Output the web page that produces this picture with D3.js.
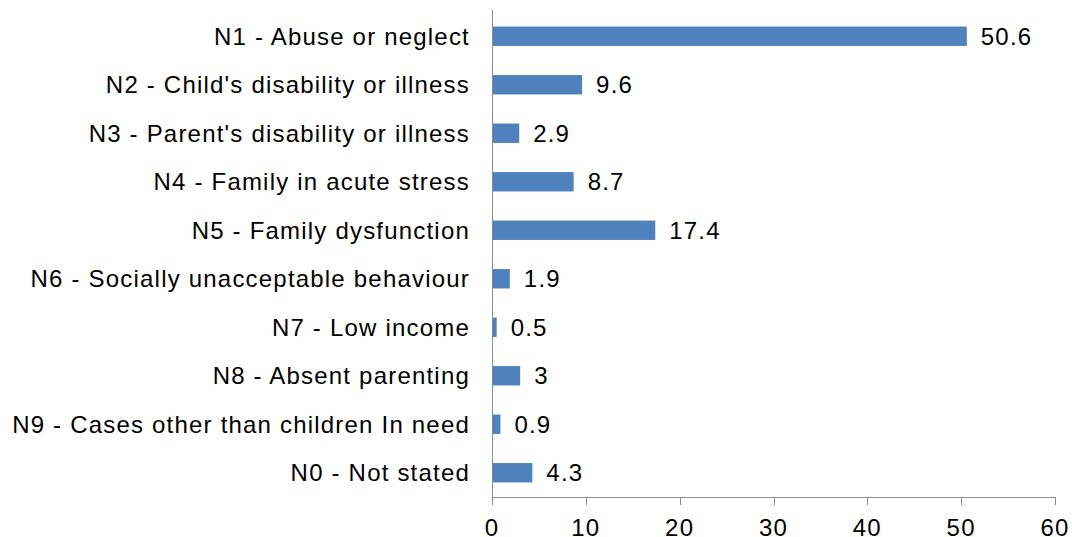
<!DOCTYPE html>
<html><head><meta charset="utf-8">
<script src="https://cdn.jsdelivr.net/npm/d3@7"></script>
<style>body{margin:0;background:#fff}svg{display:block}text{font-family:"Liberation Sans",Arial,sans-serif;fill:#000;letter-spacing:1.2px}</style>
</head><body>
<svg id="c" width="1072" height="537"></svg>
<script>
const categories = ["N1 - Abuse or neglect","N2 - Child's disability or illness","N3 - Parent's disability or illness","N4 - Family in acute stress","N5 - Family dysfunction","N6 - Socially unacceptable behaviour","N7 - Low income","N8 - Absent parenting","N9 - Cases other than children In need","N0 - Not stated"];
const values = [50.6, 9.6, 2.9, 8.7, 17.4, 1.9, 0.5, 3, 0.9, 4.3];
const valueLabels = ["50.6","9.6","2.9","8.7","17.4","1.9","0.5","3","0.9","4.3"];
const xTicks = [0,10,20,30,40,50,60];

const svg = d3.select("#c");
const x = d3.scaleLinear().domain([0,60]).range([492,1055]);
const y = d3.scaleBand().domain(categories).range([12,497]).paddingInner(0.6).paddingOuter(0.3);

svg.selectAll("rect.bar").data(values).join("rect")
  .attr("x", x(0)).attr("y", (d,i)=>y(categories[i]))
  .attr("width", d=>x(d)-x(0)).attr("height", y.bandwidth())
  .attr("fill","#4F81BD");

svg.selectAll("text.val").data(values).join("text")
  .attr("x", d=>x(d)+14).attr("y", (d,i)=>y(categories[i])+y.bandwidth()/2)
  .attr("dy","0.36em").attr("font-size","24px").text((d,i)=>valueLabels[i]);

svg.selectAll("text.cat").data(categories).join("text")
  .attr("x", 470).attr("y", d=>y(d)+y.bandwidth()/2)
  .attr("dy","0.36em").attr("text-anchor","end").attr("font-size","24px").text(d=>d);

// axes
svg.append("line").attr("x1",x(0)+0.5).attr("x2",x(0)+0.5).attr("y1",10).attr("y2",497).attr("stroke","#8c8c8c").attr("stroke-width",1);
svg.append("line").attr("x1",x(0)).attr("x2",x(60)+0.5).attr("y1",497.5).attr("y2",497.5).attr("stroke","#8c8c8c").attr("stroke-width",1);
svg.selectAll("line.tk").data(xTicks).join("line")
  .attr("x1",d=>Math.round(x(d))+0.5).attr("x2",d=>Math.round(x(d))+0.5).attr("y1",497).attr("y2",505)
  .attr("stroke","#8c8c8c");
svg.selectAll("text.tl").data(xTicks).join("text")
  .attr("x",d=>x(d)).attr("y",536).attr("text-anchor","middle").attr("font-size","24px").text(d=>d);
</script>
</body></html>
